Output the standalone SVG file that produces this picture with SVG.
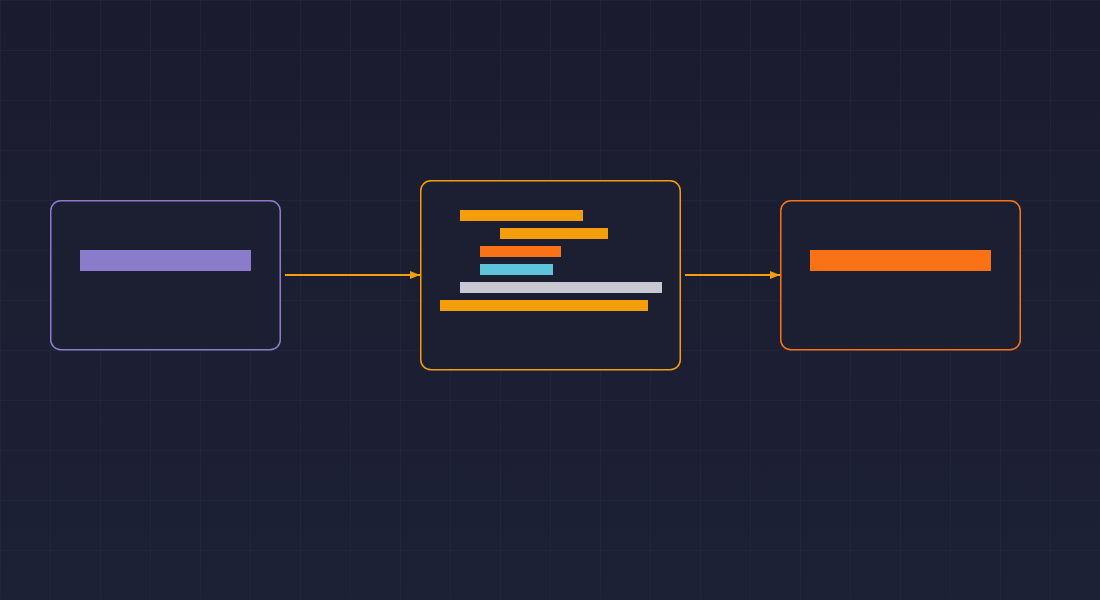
<svg xmlns="http://www.w3.org/2000/svg" width="1100" height="600" viewBox="0 0 1100 600">
<defs>
<linearGradient id="bg" x1="0" y1="0" x2="0" y2="1">
<stop offset="0" stop-color="#1a1b2e"/>
<stop offset="1" stop-color="#1d2135"/>
</linearGradient>
<pattern id="grid" width="50" height="50" patternUnits="userSpaceOnUse">
<path d="M50 0 L0 0 L0 50" fill="none" stroke="#262a3e" stroke-width="1"/>
</pattern>
<marker id="arr" viewBox="0 0 10 10" refX="10" refY="5" markerWidth="10" markerHeight="10" markerUnits="userSpaceOnUse" orient="auto">
<path d="M0 1 L10 5 L0 9 Z" fill="#f59e0b"/>
</marker>
</defs>
<style>
.box{fill:#1c1e31;stroke-width:1.5}
.edge{stroke:#f59e0b;stroke-width:2;fill:none}
</style>
<rect width="1100" height="600" fill="url(#bg)"/>
<rect width="1100" height="600" fill="url(#grid)"/>
<g id="connectors">
<line class="edge" x1="285" y1="275" x2="420" y2="275" marker-end="url(#arr)"/>
<line class="edge" x1="685" y1="275" x2="780" y2="275" marker-end="url(#arr)"/>
</g>
<g id="node-input">
<rect class="box" x="50.75" y="200.75" width="229.5" height="149" rx="10" stroke="#8b7bcb"/>
<rect x="80" y="250" width="171" height="21" fill="#8b7bcb"/>
</g>
<g id="node-process">
<rect class="box" x="420.75" y="180.75" width="259.5" height="189" rx="10" stroke="#f59e0b"/>
<rect x="460" y="210" width="123" height="11" fill="#f59e0b"/>
<rect x="500" y="228" width="108" height="11" fill="#f59e0b"/>
<rect x="480" y="246" width="81" height="11" fill="#f97316"/>
<rect x="480" y="264" width="73" height="11" fill="#5ec4dc"/>
<rect x="460" y="282" width="202" height="11" fill="#c8c8d2"/>
<rect x="440" y="300" width="208" height="11" fill="#f59e0b"/>
</g>
<g id="node-output">
<rect class="box" x="780.75" y="200.75" width="239.5" height="149" rx="10" stroke="#f97316"/>
<rect x="810" y="250" width="181" height="21" fill="#f97316"/>
</g>
</svg>
